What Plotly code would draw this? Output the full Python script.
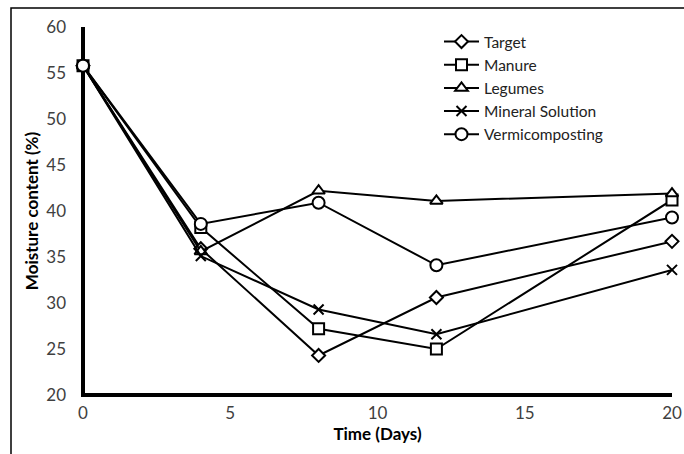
import plotly.graph_objects as go

days = [0, 4, 8, 12, 20]
target = [55.8, 35.9, 24.3, 30.6, 36.7]
manure = [55.8, 38.2, 27.2, 25.0, 41.2]
legumes = [55.8, 35.6, 42.2, 41.1, 41.9]
mineral = [55.8, 35.1, 29.3, 26.6, 33.6]
vermi = [55.8, 38.6, 40.9, 34.1, 39.3]

x_ticks = [0, 5, 10, 15, 20]
y_ticks = [20, 25, 30, 35, 40, 45, 50, 55, 60]

series = [
    ("Target", target, "diamond", 10),
    ("Manure", manure, "square", 11),
    ("Legumes", legumes, "triangle-up", 11),
    ("Mineral Solution", mineral, "x-thin", 10),
    ("Vermicomposting", vermi, "circle", 12),
]

FONT = "Lato"
fig = go.Figure()
for name, vals, sym, sz in series:
    fig.add_trace(go.Scatter(
        x=days, y=vals, name=name, mode="lines+markers", cliponaxis=False,
        line=dict(color="black", width=2),
        marker=dict(symbol=sym, size=sz, color="white",
                    line=dict(color="black", width=2)),
    ))

W, H = 684, 454
L, R, T, B = 83, 12, 27, 59
pw, ph = W - L - R, H - T - B

def px(xpage):
    return (xpage - L) / pw

def py(ypage):
    return 1 - (ypage - T) / ph

# outer frame
fig.add_shape(type="rect", xref="paper", yref="paper",
              x0=px(11), x1=1.2, y0=-0.4, y1=py(8),
              line=dict(color="black", width=1.5), fillcolor="rgba(0,0,0,0)", layer="below")
# thick axis lines centred on the plot edges (x=0 and y=20)
fig.add_shape(type="path", xref="paper", yref="paper",
              path="M 0,1 L 0,0 L 1,0",
              line=dict(color="black", width=4), layer="below")

fig.update_layout(
    width=W, height=H,
    margin=dict(l=L, r=R, t=T, b=B),
    paper_bgcolor="white", plot_bgcolor="white",
    font=dict(family=FONT, size=17, color="#404040"),
    showlegend=True,
    legend=dict(x=px(439), y=py(25), xanchor="left", yanchor="top",
                bgcolor="rgba(0,0,0,0)", font=dict(family=FONT, size=15.5, color="#222"),
                itemwidth=35, tracegroupgap=0),
    xaxis=dict(range=[0, 20], tickvals=x_ticks, showgrid=False, zeroline=False,
               showline=False, ticks="", ticklabelstandoff=6, automargin=False,
               title=dict(text="<b>Time (Days)</b>", font=dict(family=FONT, size=17, color="black"), standoff=4)),
    yaxis=dict(range=[20, 60], tickvals=y_ticks, showgrid=False, zeroline=False,
               showline=False, ticks="", ticklabelstandoff=16, automargin=False,
               title=dict(text="<b>Moisture content (%)</b>", font=dict(family=FONT, size=17, color="black"), standoff=3)),
)

fig.write_html("out.html", config={"displayModeBar": False},
               post_script="document.body.style.margin='0';document.body.style.overflow='hidden';")
